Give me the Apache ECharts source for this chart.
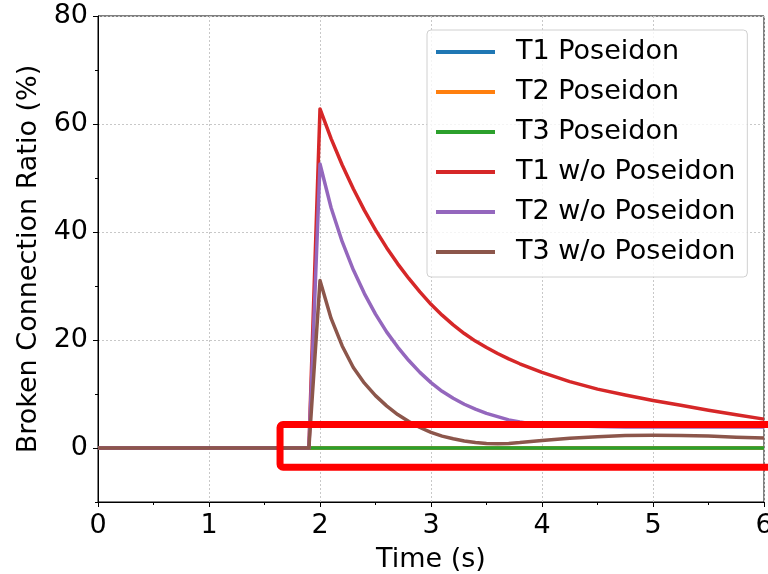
<!DOCTYPE html>
<html>
<head>
<meta charset="utf-8">
<title>Broken Connection Ratio</title>
<script src="https://cdn.jsdelivr.net/npm/echarts@6/dist/echarts.min.js"></script>
<style>
  html, body { margin: 0; padding: 0; background: #ffffff; }
  #chart { width: 768px; height: 574px; }
</style>
</head>
<body>
<div id="chart"></div>
<script>
// Sample times (s)
const times = [0, 1.9,
  2.0, 2.1, 2.2, 2.3, 2.4, 2.5, 2.6, 2.7, 2.8, 2.9, 3.0,
  3.1, 3.2, 3.3, 3.4, 3.5, 3.6, 3.7, 3.8, 3.9, 4.0,
  4.25, 4.5, 4.75, 5.0, 5.25, 5.5, 5.75, 6.0];

// Broken connection ratio (%) with Poseidon
const t1Poseidon = [0, 0,
  0, 0, 0, 0, 0, 0, 0, 0, 0, 0, 0,
  0, 0, 0, 0, 0, 0, 0, 0, 0, 0,
  0, 0, 0, 0, 0, 0, 0, 0];
const t2Poseidon = [0, 0,
  0, 0, 0, 0, 0, 0, 0, 0, 0, 0, 0,
  0, 0, 0, 0, 0, 0, 0, 0, 0, 0,
  0, 0, 0, 0, 0, 0, 0, 0];
const t3Poseidon = [0, 0,
  0, 0, 0, 0, 0, 0, 0, 0, 0, 0, 0,
  0, 0, 0, 0, 0, 0, 0, 0, 0, 0,
  0, 0, 0, 0, 0, 0, 0, 0];

// Broken connection ratio (%) without Poseidon
const t1NoPoseidon = [0, 0,
  62.8, 57.3, 52.4, 48.0, 44.0, 40.4, 37.1, 34.1, 31.4, 28.9, 26.6,
  24.6, 22.8, 21.2, 19.8, 18.6, 17.5, 16.5, 15.6, 14.8, 14.0,
  12.3, 10.9, 9.8, 8.8, 7.9, 7.0, 6.15, 5.35];
const t2NoPoseidon = [0, 0,
  52.6, 44.5, 38.2, 33.0, 28.6, 24.8, 21.5, 18.7, 16.2, 14.0, 12.1,
  10.5, 9.2, 8.1, 7.2, 6.4, 5.8, 5.2, 4.8, 4.5, 4.3,
  4.1, 4.0, 3.9, 3.9, 3.9, 3.9, 3.9, 3.9];
const t3NoPoseidon = [0, 0,
  31.0, 24.0, 18.9, 14.9, 12.0, 9.7, 7.8, 6.2, 4.9, 3.8, 2.9,
  2.2, 1.7, 1.3, 1.0, 0.85, 0.8, 0.85, 1.0, 1.2, 1.4,
  1.8, 2.1, 2.3, 2.35, 2.3, 2.2, 2.0, 1.85];

const seriesNames = ['T1 Poseidon', 'T2 Poseidon', 'T3 Poseidon',
  'T1 w/o Poseidon', 'T2 w/o Poseidon', 'T3 w/o Poseidon'];
const seriesValues = [t1Poseidon, t2Poseidon, t3Poseidon,
  t1NoPoseidon, t2NoPoseidon, t3NoPoseidon];
const seriesColors = ['#1f77b4', '#ff7f0e', '#2ca02c', '#d62728', '#9467bd', '#8c564b'];

const xTicks = [0, 1, 2, 3, 4, 5, 6];
const yLabelValues = [0, 20, 40, 60, 80];

// Highlight box around the steady-state region (data units)
const boxFrom = [1.64, 4.35];
const boxTo = [6.6, -3.55];

const FONT = 'DejaVu Sans';

const chart = echarts.init(document.getElementById('chart'), null, { renderer: 'canvas' });

const series = seriesNames.map((name, i) => ({
  name: name,
  type: 'line',
  xAxisIndex: 0,
  yAxisIndex: 0,
  data: times.map((t, k) => [t, seriesValues[i][k]]),
  showSymbol: false,
  symbol: 'none',
  smooth: false,
  lineStyle: { color: seriesColors[i], width: 3.5, cap: 'butt', join: 'round' },
  itemStyle: { color: seriesColors[i] },
  z: 2 + i
}));

chart.setOption({
  animation: false,
  backgroundColor: '#ffffff',
  textStyle: { fontFamily: FONT },
  grid: {
    left: 98, right: 4, top: 16, bottom: 72,
    outerBoundsMode: 'none',
    containLabel: false,
    show: true, borderColor: '#000', borderWidth: 1,
    backgroundColor: 'transparent'
  },
  legend: {
    orient: 'vertical',
    left: 427, top: 30,
    padding: [6, 12, 9, 9],
    itemWidth: 59, itemHeight: 4, itemGap: 8,
    icon: 'rect',
    backgroundColor: 'rgba(255,255,255,0.8)',
    borderColor: '#d0d0d0', borderWidth: 1, borderRadius: 4,
    textStyle: { fontFamily: FONT, fontSize: 27, color: '#000', lineHeight: 32, padding: [0, 0, 0, 16] },
    data: seriesNames
  },
  xAxis: {
    type: 'value', min: xTicks[0], max: xTicks[xTicks.length - 1], interval: 1,
    name: 'Time (s)', nameLocation: 'middle', nameGap: 44,
    nameTextStyle: { fontFamily: FONT, fontSize: 27, color: '#000' },
    axisLine: { show: true, onZero: false, lineStyle: { color: '#000', width: 1 } },
    axisTick: { show: true, length: 5, lineStyle: { color: '#000', width: 1 } },
    minorTick: { show: true, splitNumber: 2, length: 3, lineStyle: { color: '#000', width: 1 } },
    axisLabel: { fontFamily: FONT, fontSize: 27, color: '#000', margin: 10 },
    splitLine: { show: true, lineStyle: { color: '#c8c8c8', width: 1, type: [2, 2] } }
  },
  yAxis: [{
    type: 'value', min: -10, max: 80, interval: 10,
    name: 'Broken Connection Ratio (%)', nameLocation: 'middle', nameGap: 40,
    nameTextStyle: { fontFamily: FONT, fontSize: 27, color: '#000' },
    axisLine: { show: true, onZero: false, lineStyle: { color: '#000', width: 1 } },
    axisTick: { show: true, length: 3, lineStyle: { color: '#000', width: 1 } },
    axisLabel: {
      fontFamily: FONT, fontSize: 27, color: '#000', margin: 10,
      formatter: v => (yLabelValues.indexOf(v) >= 0 ? String(v) : '')
    },
    splitLine: { show: true, lineStyle: { color: ['transparent', '#c8c8c8'], width: 1, type: [2, 2] } }
  }, {
    type: 'value', min: -10, max: 80, position: 'left', offset: 0,
    axisLine: { show: false },
    axisTick: { show: true, length: 5, customValues: yLabelValues, lineStyle: { color: '#000', width: 1 } },
    axisLabel: { show: false },
    splitLine: { show: false }
  }],
  series: series
});

// Red outline box, placed from data coordinates
const p0 = chart.convertToPixel({ gridIndex: 0 }, boxFrom);
const p1 = chart.convertToPixel({ gridIndex: 0 }, boxTo);
chart.setOption({
  graphic: [{
    type: 'rect',
    z: 100,
    shape: { x: p0[0], y: p0[1], width: p1[0] - p0[0], height: p1[1] - p0[1], r: 3 },
    style: { fill: 'none', stroke: '#ff0000', lineWidth: 7 }
  }]
});
</script>
</body>
</html>
